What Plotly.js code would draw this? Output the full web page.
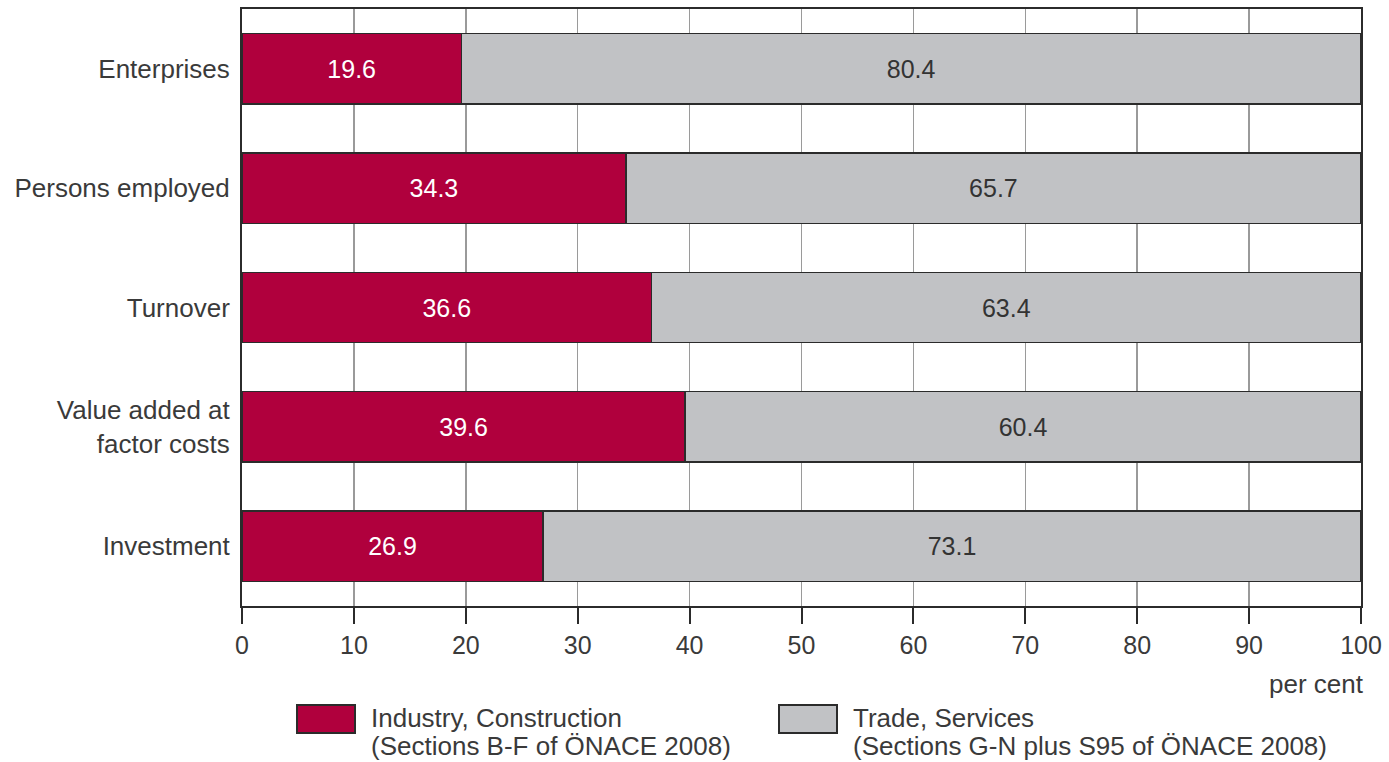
<!DOCTYPE html>
<html>
<head>
<meta charset="utf-8">
<script src="https://cdn.plot.ly/plotly-3.0.1.min.js"></script>
<style>html,body{margin:0;padding:0;background:#fff;}#chart{width:1389px;height:762px;}</style>
</head>
<body>
<div id="chart"></div>
<script>
const categories = ["Enterprises", "Persons employed", "Turnover", "Value added at<br>factor costs", "Investment"];
const industryValues = [19.6, 34.3, 36.6, 39.6, 26.9];
const tradeValues = [80.4, 65.7, 63.4, 60.4, 73.1];
const seriesNameLines = [
  ["Industry, Construction", "(Sections B-F of ÖNACE 2008)"],
  ["Trade, Services", "(Sections G-N plus S95 of ÖNACE 2008)"]
];
const seriesColors = ["#B0003D", "#C1C2C5"];
const xTicks = [0, 10, 20, 30, 40, 50, 60, 70, 80, 90, 100];
const xUnit = "per cent";

const font = "Liberation Sans, Arial, sans-serif";
const txtColor = "#3a3a3a";
const numSize = 25;
const labSize = 26;

const traces = [
  {
    type: "bar", orientation: "h", y: categories, x: industryValues, name: seriesNameLines[0].join(" "),
    marker: {color: seriesColors[0], line: {color: "#2b2b2b", width: 1.5}},
    text: industryValues.map(v => v.toFixed(1)), textposition: "inside", insidetextanchor: "middle",
    textfont: {color: "#ffffff", size: numSize, family: font}, width: 0.59, showlegend: false, hoverinfo: "x+y"
  },
  {
    type: "bar", orientation: "h", y: categories, x: tradeValues, name: seriesNameLines[1].join(" "),
    marker: {color: seriesColors[1], line: {color: "#2b2b2b", width: 1.5}},
    text: tradeValues.map(v => v.toFixed(1)), textposition: "inside", insidetextanchor: "middle",
    textfont: {color: "#333333", size: numSize, family: font}, width: 0.59, showlegend: false, hoverinfo: "x+y"
  }
];

// legend drawn as layout shapes + annotations (paper coords)
const legendX = [297, 779];
const W = 1389, H = 762, ml = 242, mr = 28, mt = 9, mb = 156;
const pw = W - ml - mr, ph = H - mt - mb;
const px = x => (x - ml) / pw;
const py = y => 1 - (y - mt) / ph;

const shapes = [];
const annotations = [];
seriesNameLines.forEach((lines, i) => {
  shapes.push({type: "rect", xref: "paper", yref: "paper",
    x0: px(legendX[i]), x1: px(legendX[i] + 58), y0: py(733), y1: py(705),
    fillcolor: seriesColors[i], line: {color: "#2b2b2b", width: 2}});
  lines.forEach((ln, j) => {
    annotations.push({xref: "paper", yref: "paper", x: px(legendX[i] + 72), y: py(718 + 28 * j),
      xanchor: "left", yanchor: "middle", align: "left", showarrow: false, text: ln,
      font: {size: labSize, family: font, color: txtColor}});
  });
});
annotations.push({xref: "paper", yref: "paper", x: px(1366), y: py(684), xanchor: "right", yanchor: "middle",
  showarrow: false, text: xUnit, font: {size: labSize, family: font, color: txtColor}});

const layout = {
  width: W, height: H,
  margin: {l: ml, r: mr, t: mt, b: mb, pad: 0},
  paper_bgcolor: "#ffffff", plot_bgcolor: "#ffffff",
  barmode: "stack", showlegend: false,
  font: {family: font, size: labSize, color: txtColor},
  xaxis: {
    range: [0, 100], tickvals: xTicks, ticktext: xTicks.map(String),
    showgrid: true, gridcolor: "#9a9a9a", gridwidth: 1.5,
    zeroline: false, showline: true, linecolor: "#2b2b2b", linewidth: 2, mirror: true,
    ticks: "outside", ticklen: 16, tickwidth: 2, tickcolor: "#2b2b2b",
    tickfont: {size: numSize, family: font, color: txtColor}, fixedrange: true
  },
  yaxis: {
    range: [4.5, -0.5], type: "category", categoryorder: "array", categoryarray: categories,
    showgrid: false, zeroline: false, showline: true, linecolor: "#2b2b2b", linewidth: 2, mirror: true,
    ticks: "", ticklabelstandoff: 5,
    tickfont: {size: labSize, family: font, color: txtColor}, fixedrange: true
  },
  shapes: shapes,
  annotations: annotations
};

Plotly.newPlot("chart", traces, layout, {displayModeBar: false, staticPlot: true});
</script>
</body>
</html>
